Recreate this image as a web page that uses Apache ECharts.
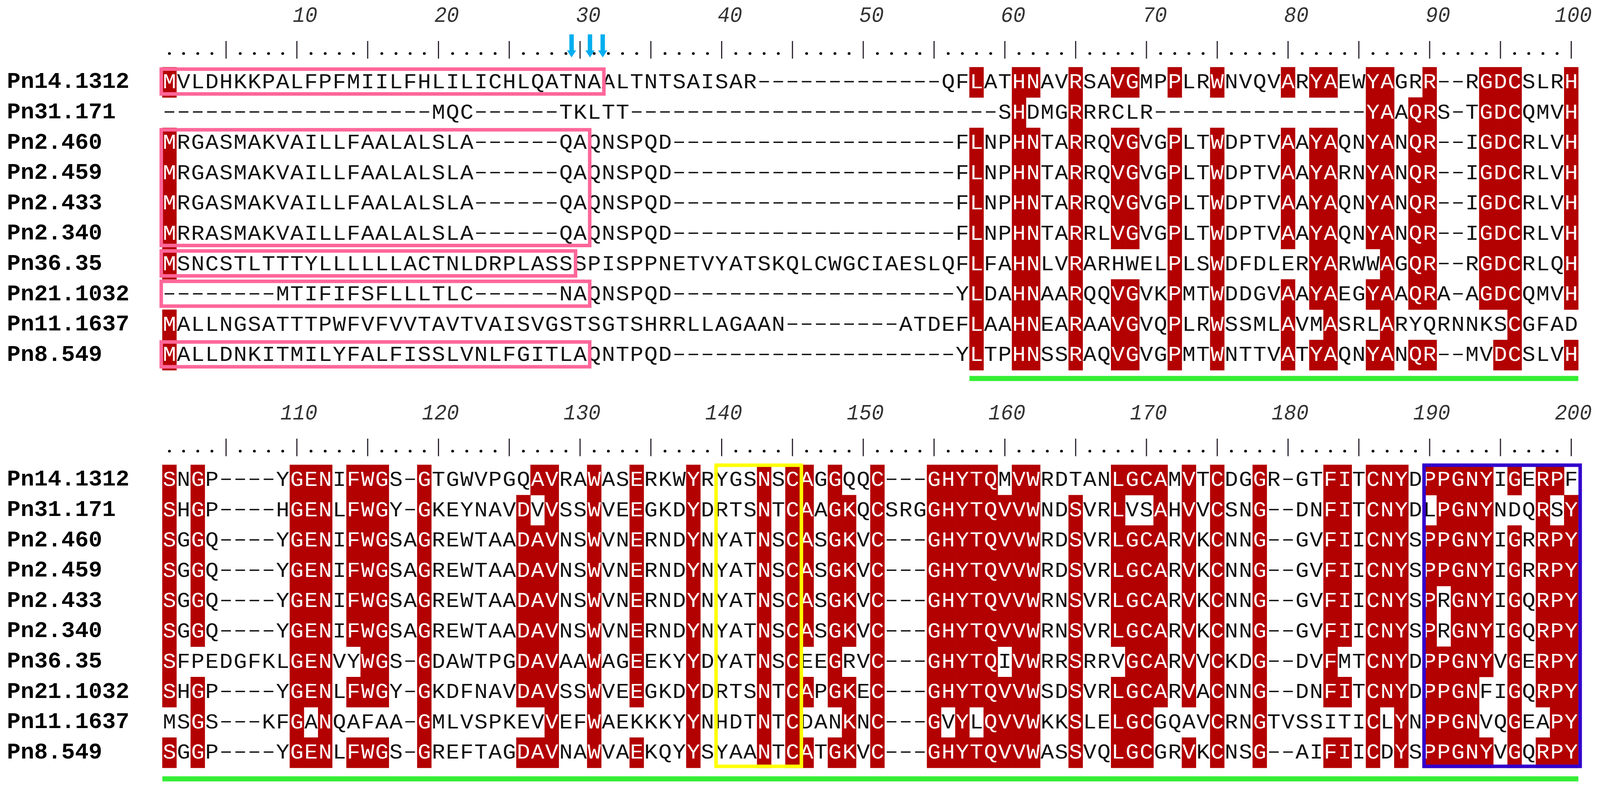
<!DOCTYPE html>
<html>
<head>
<meta charset="utf-8">
<script src="https://cdn.jsdelivr.net/npm/echarts@6/dist/echarts.min.js"></script>
<style>
  html, body { margin: 0; padding: 0; background: #fff; overflow: hidden; }
  #chart { width: 100vw; height: 2020px; }
</style>
</head>
<body>
<div id="chart"></div>
<script>
// sequence names, top to bottom
const sequenceNames = ['Pn14.1312', 'Pn31.171', 'Pn2.460', 'Pn2.459', 'Pn2.433',
  'Pn2.340', 'Pn36.35', 'Pn21.1032', 'Pn11.1637', 'Pn8.549'];

// alignment, columns 1-100
const residues1to100 = [
  'MVLDHKKPALFPFMIILFHLILICHLQATNAALTNTSAISAR-------------QFLATHNAVRSAVGMPPLRWNVQVARYAEWYAGRR--RGDCSLRH',
  '-------------------MQC------TKLTT--------------------------SHDMGRRRCLR---------------YAAQRS-TGDCQMVH',
  'MRGASMAKVAILLFAALALSLA------QAQNSPQD--------------------FLNPHNTARRQVGVGPLTWDPTVAAYAQNYANQR--IGDCRLVH',
  'MRGASMAKVAILLFAALALSLA------QAQNSPQD--------------------FLNPHNTARRQVGVGPLTWDPTVAAYARNYANQR--IGDCRLVH',
  'MRGASMAKVAILLFAALALSLA------QAQNSPQD--------------------FLNPHNTARRQVGVGPLTWDPTVAAYAQNYANQR--IGDCRLVH',
  'MRRASMAKVAILLFAALALSLA------QAQNSPQD--------------------FLNPHNTARRLVGVGPLTWDPTVAAYAQNYANQR--IGDCRLVH',
  'MSNCSTLTTTYLLLLLLACTNLDRPLASSSPISPPNETVYATSKQLCWGCIAESLQFLFAHNLVRARHWELPLSWDFDLERYARWWAGQR--RGDCRLQH',
  '--------MTIFIFSFLLLTLC------NAQNSPQD--------------------YLDAHNAARQQVGVKPMTWDDGVAAYAEGYAAQRA-AGDCQMVH',
  'MALLNGSATTTPWFVFVVTAVTVAISVGSTSGTSHRRLLAGAAN--------ATDEFLAAHNEARAAVGVQPLRWSSMLAVMASRLARYQRNNKSCGFAD',
  'MALLDNKITMILYFALFISSLVNLFGITLAQNTPQD--------------------YLTPHNSSRAQVGVGPMTWNTTVATYAQNYANQR--MVDCSLVH'
];

// alignment, columns 101-200
const residues101to200 = [
  'SNGP----YGENIFWGS-GTGWVPGQAVRAWASERKWYRYGSNSCAGGQQC---GHYTQMVWRDTANLGCAMVTCDGGR-GTFITCNYDPPGNYIGERPF',
  'SHGP----HGENLFWGY-GKEYNAVDVVSSWVEEGKDYDRTSNTCAAGKQCSRGGHYTQVVWNDSVRLVSAHVVCSNG--DNFITCNYDLPGNYNDQRSY',
  'SGGQ----YGENIFWGSAGREWTAADAVNSWVNERNDYNYATNSCASGKVC---GHYTQVVWRDSVRLGCARVKCNNG--GVFIICNYSPPGNYIGRRPY',
  'SGGQ----YGENIFWGSAGREWTAADAVNSWVNERNDYNYATNSCASGKVC---GHYTQVVWRDSVRLGCARVKCNNG--GVFIICNYSPPGNYIGRRPY',
  'SGGQ----YGENIFWGSAGREWTAADAVNSWVNERNDYNYATNSCASGKVC---GHYTQVVWRNSVRLGCARVKCNNG--GVFIICNYSPRGNYIGQRPY',
  'SGGQ----YGENIFWGSAGREWTAADAVNSWVNERNDYNYATNSCASGKVC---GHYTQVVWRNSVRLGCARVKCNNG--GVFIICNYSPRGNYIGQRPY',
  'SFPEDGFKLGENVYWGS-GDAWTPGDAVAAWAGEEKYYDYATNSCEEGRVC---GHYTQIVWRRSRRVGCARVVCKDG--DVFMTCNYDPPGNYVGERPY',
  'SHGP----YGENLFWGY-GKDFNAVDAVSSWVEEGKDYDRTSNTCAPGKEC---GHYTQVVWSDSVRLGCARVACNNG--DNFITCNYDPPGNFIGQRPY',
  'MSGS---KFGANQAFAA-GMLVSPKEVVEFWAEKKKYYNHDTNTCDANKNC---GVYLQVVWKKSLELGCGQAVCRNGTVSSITICLYNPPGNVQGEAPY',
  'SGGP----YGENLFWGS-GREFTAGDAVNAWVAEKQYYSYAANTCATGKVC---GHYTQVVWASSVQLGCGRVKCNSG--AIFIICDYSPPGNYVGQRPY'
];

// ruler numbers over each block
const rulerLabelsTop = [10, 20, 30, 40, 50, 60, 70, 80, 90, 100];
const rulerLabelsBottom = [110, 120, 130, 140, 150, 160, 170, 180, 190, 200];

// signal peptide frames: [first residue, last residue, first row, last row]
const signalPeptideBoxes = [[1, 31, 0, 0], [1, 30, 2, 5], [1, 29, 6, 6], [1, 30, 7, 7], [1, 30, 9, 9]];
// cleavage arrows (residue coordinate)
const cleavageArrows = [29.4, 30.7, 31.6];
// motif frames in the second block: [first residue, last residue, colour]
const motifBoxes = [[140, 145, '#ffff00'], [190, 200, '#3300cc']];
// green domain bars: [first residue, last residue, block]
const domainBars = [[58, 100, 0], [101, 200, 1]];

// a column is shaded when one residue occurs in at least this many rows
const minIdentical = 8;

const RED = '#b30000';
const MONO = '"Liberation Mono", "DejaVu Sans Mono", monospace';
const SEQ_FONT = '54px ' + MONO;

let chart = echarts.init(document.getElementById('chart'), null, { renderer: 'canvas' });
// the layout was measured on a 4356 px wide picture; squeeze x to the real width
const kx = chart.getWidth() / 4356;

const blocks = [
  { seqs: residues1to100, first: 1, top: 172, labels: rulerLabelsTop, barGap: 21 },
  { seqs: residues101to200, first: 101, top: 1190, labels: rulerLabelsBottom, barGap: 28 }
];

function buildCells(seqs, first) {
  let cells = [];
  let len = seqs[0].length;
  for (let j = 0; j < len; j++) {
    let count = {};
    seqs.forEach(s => {
      let ch = s[j];
      if (ch !== '-') count[ch] = (count[ch] || 0) + 1;
    });
    let best = null, bestN = 0;
    for (let k in count) {
      if (count[k] > bestN) { bestN = count[k]; best = k; }
    }
    seqs.forEach((s, r) => {
      let ch = s[j];
      cells.push({ pos: first + j, row: r, ch: ch, hi: bestN >= minIdentical && ch === best });
    });
  }
  return cells;
}

function cellRenderer(cells) {
  return function (params, api) {
    let c = cells[params.dataIndex];
    let pt = api.coord([c.pos, c.row]);
    let w = api.size([1, 0])[0];
    let h = api.size([0, 1])[1];
    let children = [];
    if (c.hi) {
      children.push({
        type: 'rect',
        shape: { x: pt[0] - w / 2 - 0.3, y: pt[1] - h / 2 - 0.3, width: w + 0.6, height: h + 0.6 },
        style: { fill: RED }
      });
    }
    if (c.ch === '-') {
      children.push({
        type: 'rect',
        shape: { x: pt[0] - w * 0.34, y: pt[1] - 3.5, width: w * 0.68, height: 3.5 },
        style: { fill: '#111' }
      });
    } else {
      children.push({
        type: 'text', x: pt[0], y: pt[1] + 1, scaleX: kx * 1.12,
        style: {
          text: c.ch, x: 0, y: 0, align: 'center', verticalAlign: 'middle',
          font: SEQ_FONT, fill: c.hi ? '#fff' : '#111'
        }
      });
    }
    return { type: 'group', children: children };
  };
}

function rulerRenderer(block) {
  return function (params, api) {
    let pos = api.value(0);
    let p = api.coord([pos, 0]);
    let top = p[1] - api.size([0, 1])[1] / 2;
    let children = [];
    if (pos % 5 === 0) {
      children.push({
        type: 'line',
        shape: { x1: p[0], y1: top - 67, x2: p[0], y2: top - 22 },
        style: { stroke: '#2a2230', lineWidth: 3 }
      });
    } else {
      children.push({ type: 'circle', shape: { cx: p[0], cy: top - 35, r: 3.6 }, style: { fill: '#000' } });
    }
    if (block.labels.indexOf(pos) >= 0) {
      children.push({
        type: 'text', x: p[0] + 56 * kx, y: top - 131, scaleX: kx,
        style: {
          text: String(pos), x: 0, y: 0, align: 'right', verticalAlign: 'middle',
          font: 'italic 56px ' + MONO, fill: '#333'
        }
      });
    }
    return { type: 'group', children: children };
  };
}

let grids = [], xAxes = [], yAxes = [], series = [];

blocks.forEach((b, bi) => {
  grids.push({ left: 442 * kx, top: b.top, width: 3855 * kx, height: 776, show: false });
  xAxes.push({ type: 'value', gridIndex: bi, min: b.first - 0.5, max: b.first + 99.5, show: false });
  yAxes.push({
    type: 'category', gridIndex: bi, data: sequenceNames, inverse: true,
    axisLine: { show: false }, axisTick: { show: false }, splitLine: { show: false },
    axisLabel: {
      align: 'left', margin: 423 * kx, color: '#000',
      fontFamily: MONO, fontWeight: 'bold', fontSize: 58
    }
  });

  let cells = buildCells(b.seqs, b.first);
  series.push({
    type: 'custom', name: 'alignment' + bi, xAxisIndex: bi, yAxisIndex: bi, clip: false,
    data: cells.map(c => [c.pos, c.row]),
    renderItem: cellRenderer(cells), z: 2
  });

  let marks = [];
  for (let k = 0; k < b.seqs[0].length; k++) marks.push([b.first + k, 0]);
  series.push({
    type: 'custom', name: 'ruler' + bi, xAxisIndex: bi, yAxisIndex: bi, clip: false,
    data: marks, renderItem: rulerRenderer(b), z: 3
  });

  let bars = domainBars.filter(d => d[2] === bi);
  series.push({
    type: 'custom', name: 'domain' + bi, xAxisIndex: bi, yAxisIndex: bi, clip: false,
    data: bars.map(d => [d[0], 9]),
    renderItem: function (params, api) {
      let d = bars[params.dataIndex];
      let w = api.size([1, 0])[0], h = api.size([0, 1])[1];
      let a = api.coord([d[0], 9]), e = api.coord([d[1], 9]);
      let y = a[1] + h / 2 + b.barGap;
      return {
        type: 'rect',
        shape: { x: a[0] - w / 2, y: y - 6.5, width: e[0] - a[0] + w, height: 13 },
        style: { fill: '#33ee33' }
      };
    }, z: 3
  });
});

// block 1 annotations: signal peptides and arrows
series.push({
  type: 'custom', name: 'signal', xAxisIndex: 0, yAxisIndex: 0, clip: false,
  data: signalPeptideBoxes.map(s => [s[0], s[2]]),
  renderItem: function (params, api) {
    let s = signalPeptideBoxes[params.dataIndex];
    let w = api.size([1, 0])[0], h = api.size([0, 1])[1];
    let a = api.coord([s[0], s[2]]), e = api.coord([s[1], s[3]]);
    let x1 = a[0] - w / 2 - 3 * kx, x2 = e[0] + w / 2 + 7 * kx;
    let y1 = a[1] - h / 2 + 5, y2 = e[1] + h / 2 - 9;
    return {
      type: 'rect', shape: { x: x1, y: y1, width: x2 - x1, height: y2 - y1 },
      style: { fill: null, stroke: '#ff6699', lineWidth: 9 }
    };
  }, z: 4
});

series.push({
  type: 'custom', name: 'cleavage', xAxisIndex: 0, yAxisIndex: 0, clip: false,
  data: cleavageArrows.map(x => [x, 0]),
  renderItem: function (params, api) {
    let p = api.coord([api.value(0), 0]);
    let top = p[1] - api.size([0, 1])[1] / 2;
    let x = p[0], y0 = top - 84, y1 = top - 25, hw = 6 * kx, head = 12.5 * kx, hl = 18;
    return {
      type: 'polygon',
      shape: {
        points: [[x - hw, y0], [x + hw, y0], [x + hw, y1 - hl], [x + head, y1 - hl], [x, y1],
          [x - head, y1 - hl], [x - hw, y1 - hl]]
      },
      style: { fill: '#00aeef' }
    };
  }, z: 4
});

// block 2 motif frames
series.push({
  type: 'custom', name: 'motifs', xAxisIndex: 1, yAxisIndex: 1, clip: false,
  data: motifBoxes.map(m => [m[0], 0]),
  renderItem: function (params, api) {
    let m = motifBoxes[params.dataIndex];
    let w = api.size([1, 0])[0], h = api.size([0, 1])[1];
    let a = api.coord([m[0], 0]), e = api.coord([m[1], 9]);
    let x1 = a[0] - w / 2 + 4 * kx, x2 = e[0] + w / 2 + 5 * kx;
    let y1 = a[1] - h / 2 + 1, y2 = e[1] + h / 2 - 4;
    return {
      type: 'rect', shape: { x: x1, y: y1, width: x2 - x1, height: y2 - y1 },
      style: { fill: null, stroke: m[2], lineWidth: 9 }
    };
  }, z: 4
});

chart.setOption({
  backgroundColor: '#fff',
  animation: false,
  grid: grids,
  xAxis: xAxes,
  yAxis: yAxes,
  series: series
});
</script>
</body>
</html>
